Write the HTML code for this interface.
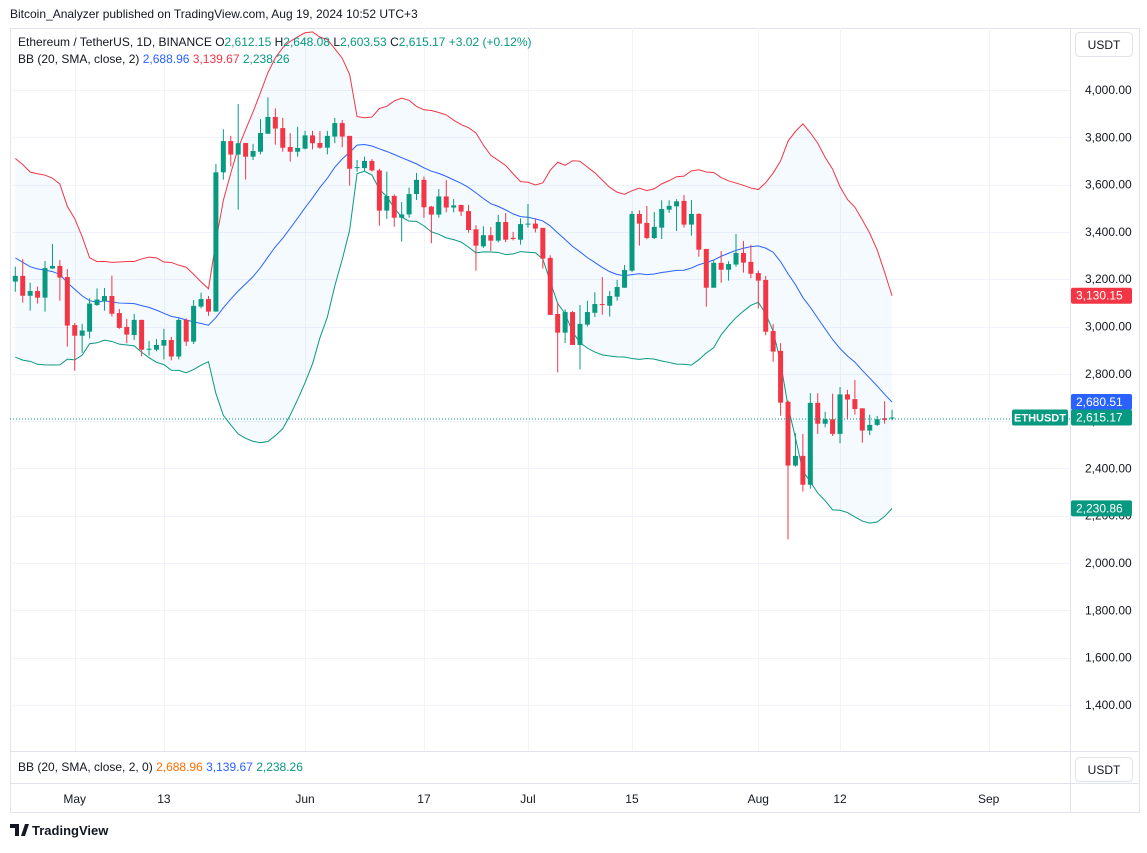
<!DOCTYPE html>
<html><head><meta charset="utf-8"><style>
html,body{margin:0;padding:0;background:#fff;}
body{width:1147px;height:848px;overflow:hidden;font-family:"Liberation Sans",sans-serif;}
svg text{font-family:"Liberation Sans",sans-serif;}
</style></head><body>
<svg id="c" width="1147" height="848" xmlns="http://www.w3.org/2000/svg">
<rect x="0" y="0" width="1147" height="848" fill="#fff"/>
<text x="10" y="18" font-size="12" fill="#131722">Bitcoin_Analyzer published on TradingView.com, Aug 19, 2024 10:52 UTC+3</text>
<rect x="10.5" y="28.5" width="1129" height="784" fill="none" stroke="#e0e3eb"/>
<g id="grid"></g>
<g id="bands"></g>
<g id="candles"></g>
<line x1="10" y1="419" x2="1070" y2="419" stroke="#089981" stroke-dasharray="1,2"/>
<line x1="1070.5" y1="28" x2="1070.5" y2="812" stroke="#e0e3eb"/>
<line x1="10" y1="751.5" x2="1140" y2="751.5" stroke="#e0e3eb"/>
<line x1="10" y1="783.5" x2="1140" y2="783.5" stroke="#e0e3eb"/>
<g id="yaxis"></g>
<g id="xaxis"></g>
<g font-size="12">
<text x="18" y="46" fill="#131722">Ethereum / TetherUS, 1D, BINANCE <tspan fill="#131722">O</tspan><tspan fill="#089981">2,612.15</tspan> <tspan fill="#131722">H</tspan><tspan fill="#089981">2,648.08</tspan> <tspan fill="#131722">L</tspan><tspan fill="#089981">2,603.53</tspan> <tspan fill="#131722">C</tspan><tspan fill="#089981">2,615.17 +3.02 (+0.12%)</tspan></text>
<text x="18" y="63" fill="#131722">BB (20, SMA, close, 2) <tspan fill="#2962ff">2,688.96</tspan> <tspan fill="#f23645">3,139.67</tspan> <tspan fill="#089981">2,238.26</tspan></text>
</g>
<text x="18" y="771" font-size="12" fill="#131722">BB (20, SMA, close, 2, 0) <tspan fill="#ff6d00">2,688.96</tspan> <tspan fill="#2962ff">3,139.67</tspan> <tspan fill="#089981">2,238.26</tspan></text>
<g><rect x="1075.5" y="32.5" width="57" height="24" rx="4" fill="#fff" stroke="#e0e3eb"/><text x="1104" y="49" font-size="12" text-anchor="middle" fill="#131722">USDT</text></g>
<g><rect x="1075.5" y="757.5" width="57" height="24" rx="4" fill="#fff" stroke="#e0e3eb"/><text x="1104" y="774" font-size="12" text-anchor="middle" fill="#131722">USDT</text></g>
<g id="tags"></g>
<g><path d="M10 824h9v12h-4v-8h-5z M21 836l4-12h4l-4 12z" fill="#131722"/><text x="32" y="835" font-size="13" font-weight="bold" fill="#131722">TradingView</text></g>
</svg>
<script>
const startDate = "2024-04-23";
const history = [3505,3520,3320,3330,3390,3450,3700,3520,3540,3505,3240,3010,3150,3090,2985,3060,3065,3060,3150];
const opens = [3190,3214,3130,3150,3122,3245,3256,3209,3006,2961,2978,3091,3106,3129,3057,2998,2964,3028,2904,2902,2919,2943,2873,3028,2936,3084,3116,3063,3652,3784,3727,3776,3718,3739,3815,3886,3839,3759,3739,3752,3808,3776,3756,3803,3860,3806,3670,3670,3700,3660,3490,3552,3460,3474,3560,3620,3507,3473,3550,3503,3514,3488,3411,3339,3386,3363,3442,3375,3367,3432,3435,3417,3290,3053,2974,3061,2922,3008,3058,3095,3088,3126,3164,3236,3476,3438,3374,3418,3494,3508,3531,3431,3476,3328,3164,3269,3240,3262,3311,3273,3226,3197,2981,2897,2682,2412,2453,2331,2677,2589,2608,2546,2713,2693,2654,2560,2584,2612,2612.15];
const highs = [3253,3285,3185,3169,3277,3349,3281,3243,3015,3011,3119,3161,3163,3215,3074,3032,3053,3028,2939,2947,2990,2956,3035,3035,3112,3143,3129,3687,3834,3806,3941,3776,3772,3877,3969,3922,3882,3818,3844,3827,3827,3827,3827,3882,3873,3806,3704,3718,3708,3667,3655,3559,3526,3587,3649,3634,3510,3581,3619,3539,3514,3514,3428,3424,3421,3472,3480,3400,3457,3518,3457,3417,3301,3101,3073,3066,3091,3109,3145,3209,3150,3197,3260,3488,3491,3510,3484,3534,3534,3538,3556,3535,3479,3328,3281,3319,3276,3391,3362,3345,3236,3214,3011,2930,2687,2548,2546,2718,2718,2639,2716,2744,2732,2774,2654,2627,2622,2684,2648.08];
const lows = [3147,3101,3067,3097,3063,3244,3109,2915,2813,2889,2950,3087,3067,3042,2990,2929,2943,2874,2877,2895,2861,2857,2861,2918,2926,3077,3045,3063,3621,3676,3494,3621,3704,3728,3815,3769,3739,3697,3718,3749,3749,3752,3728,3775,3758,3596,3655,3655,3655,3426,3455,3422,3359,3460,3535,3460,3352,3460,3483,3483,3467,3397,3236,3332,3319,3356,3357,3364,3346,3418,3398,3245,3049,2806,2930,2922,2819,3000,3040,3050,3042,3109,3164,3231,3342,3369,3370,3370,3480,3404,3418,3384,3295,3084,3164,3185,3194,3253,3228,3204,3076,2963,2851,2623,2100,2407,2302,2314,2546,2574,2537,2506,2609,2627,2509,2541,2579,2589,2603.53];
const closes = [3214,3130,3150,3122,3247,3256,3207,3004,2961,2983,3097,3114,3129,3054,2994,2966,3028,2902,2906,2922,2943,2873,3028,2936,3087,3116,3063,3652,3784,3727,3775,3718,3742,3818,3886,3837,3756,3739,3755,3808,3775,3756,3806,3860,3803,3667,3674,3700,3660,3490,3552,3460,3474,3560,3620,3504,3473,3550,3503,3512,3486,3408,3342,3386,3363,3442,3367,3370,3433,3435,3414,3287,3049,2974,3061,2922,3011,3061,3095,3091,3129,3167,3239,3476,3435,3374,3421,3497,3510,3529,3431,3476,3325,3164,3269,3240,3264,3311,3270,3223,3194,2978,2894,2678,2412,2453,2331,2677,2589,2608,2546,2713,2691,2651,2560,2584,2608,2605,2615.17];
const priceTicks = [1400,1600,1800,2000,2200,2400,2600,2800,3000,3200,3400,3600,3800,4000];
const timeTickLabels = ["May","13","Jun","17","Jul","15","Aug","12","Sep"];
const timeTickIdx = [8,20,39,55,69,83,100,111,131];
const NS="http://www.w3.org/2000/svg";
const X0=15.3, DX=7.43, TOP=28, BOT=751, LEFT=10, RIGHT=1070;
function xS(i){return X0+DX*i;}
function yS(p){return 90+(4000-p)*0.2365;}
function fmt(v){return v.toLocaleString('en-US',{minimumFractionDigits:2,maximumFractionDigits:2});}
function mk(tag,attrs,parent){const e=document.createElementNS(NS,tag);for(const k in attrs)e.setAttribute(k,attrs[k]);parent.appendChild(e);return e;}
const grid=document.getElementById('grid');
priceTicks.forEach(p=>{const y=Math.round(yS(p))+0.5;
 const l=mk('line',{x1:LEFT,x2:RIGHT,y1:y,y2:y,stroke:'#f0f3fa'},grid);
 
 });
timeTickIdx.forEach(i=>{const x=Math.round(xS(i))+0.5;
 const l=mk('line',{x1:x,x2:x,y1:TOP,y2:BOT,stroke:'#f0f3fa'},grid);
 
 });
const ya=document.getElementById('yaxis');
priceTicks.forEach(p=>{const t=mk('text',{x:1085,y:yS(p)+4,'font-size':12,fill:'#131722'},ya);t.textContent=fmt(p);
 
 });
const xa=document.getElementById('xaxis');
timeTickLabels.forEach((s,k)=>{const t=mk('text',{x:xS(timeTickIdx[k]),y:803,'font-size':12,fill:'#131722','text-anchor':'middle'},xa);t.textContent=s;
 
 });
// Bollinger
const all=history.concat(closes);const up=[],mid=[],lo=[];
for(let i=0;i<closes.length;i++){const j=i+history.length;const w=all.slice(j-19,j+1);const m=w.reduce((a,b)=>a+b,0)/20;const sd=Math.sqrt(w.reduce((a,b)=>a+(b-m)*(b-m),0)/20);mid.push(m);up.push(m+2*sd);lo.push(m-2*sd);}
const bands=document.getElementById('bands');
let fillD='M'+up.map((v,i)=>xS(i)+','+yS(v)).join('L')+'L'+lo.map((v,i)=>xS(i)+','+yS(v)).reverse().join('L')+'Z';
const f=mk('path',{d:fillD,fill:'#2196f3','fill-opacity':0.05},bands);


[[up,'#f23645','bb-upper'],[mid,'#2962ff','bb-basis'],[lo,'#089981','bb-lower']].forEach(([arr,c,n])=>{
 const p=mk('path',{d:'M'+arr.map((v,i)=>xS(i)+','+yS(v)).join('L'),fill:'none',stroke:c,'stroke-width':1},bands);
 
 });
const cg=document.getElementById('candles');
closes.forEach((c,i)=>{const o=opens[i];const col=c>=o?'#089981':'#f23645';const x=xS(i);
 const g=mk('g',{},cg);
 
 
 mk('line',{x1:x,x2:x,y1:yS(highs[i]),y2:yS(lows[i]),stroke:col,'stroke-width':1},g);
 const yt=yS(Math.max(o,c)),yb=yS(Math.min(o,c));
 mk('rect',{x:x-2.5,y:yt,width:5,height:Math.max(1,yb-yt),fill:col},g);});
// tags
const tags=document.getElementById('tags');
const n=closes.length-1;
function tag(v,col,name){const y=yS(v);const g=mk('g',{},tags);
 
 
 mk('rect',{x:1071,y:y-8,width:61,height:16,rx:2,fill:col},g);
 const t=mk('text',{x:1076,y:y+4,'font-size':12,fill:'#fff'},g);t.textContent=fmt(v);}
tag(up[n],'#f23645','upper-band-tag');
tag(mid[n],'#2962ff','basis-tag');
tag(lo[n],'#089981','lower-band-tag');
tag(closes[n],'#089981','last-price-tag');
const sg=mk('g',{},tags);


mk('rect',{x:1012,y:yS(closes[n])-8,width:56,height:16,rx:2,fill:'#089981'},sg);
const st=mk('text',{x:1040,y:yS(closes[n])+4,'font-size':11,'font-weight':'bold',fill:'#fff','text-anchor':'middle'},sg);st.textContent='ETHUSDT';
</script>
</body></html>
